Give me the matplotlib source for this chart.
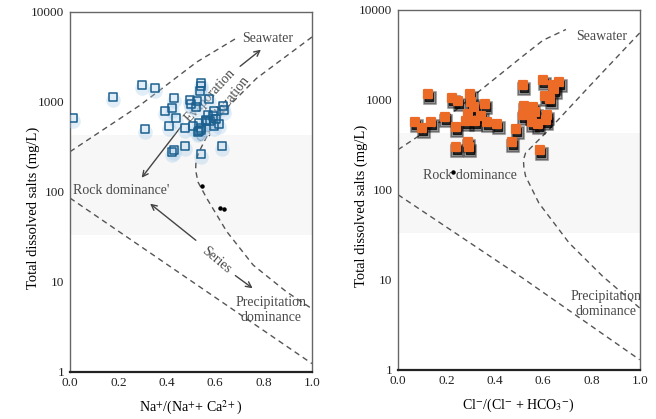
import matplotlib

matplotlib.use('Agg')

from matplotlib import pyplot as plt
from matplotlib.markers import MarkerStyle
from matplotlib.transforms import offset_copy

plt.rcParams['font.family'] = ['Liberation Serif', 'DejaVu Serif']
plt.rcParams['mathtext.fontset'] = 'stix'

# Left panel: Na+/(Na+ + Ca2+) vs TDS (hollow blue squares)
na_ratio = [0.013, 0.176, 0.298, 0.352, 0.310, 0.431, 0.421, 0.394, 0.439, 0.408,
            0.476, 0.421, 0.428, 0.476, 0.541, 0.541, 0.537, 0.496, 0.500, 0.523,
            0.520, 0.574, 0.631, 0.638, 0.593, 0.569, 0.591, 0.604, 0.560, 0.564,
            0.577, 0.533, 0.509, 0.614, 0.593, 0.543, 0.535, 0.530, 0.541, 0.627,
            0.541]
na_tds = [661, 1137, 1549, 1419, 498, 1107, 855, 784, 661, 542,
          511, 277, 287, 324, 1630, 1494, 1313, 1041, 948, 1025,
          878, 1060, 892, 804, 783, 719, 701, 644, 632, 605,
          616, 581, 542, 570, 542, 511, 476, 456, 489, 324,
          263]
na_dots_x = [0.546, 0.618, 0.638]
na_dots_y = [115, 66, 65]

# Right panel: Cl-/(Cl- + HCO3-) vs TDS (filled orange squares)
cl_ratio = [0.126, 0.071, 0.101, 0.138, 0.193, 0.224, 0.249, 0.239, 0.240, 0.300,
            0.303, 0.314, 0.291, 0.283, 0.317, 0.345, 0.360, 0.367, 0.411, 0.289,
            0.292, 0.489, 0.470, 0.516, 0.520, 0.516, 0.557, 0.568, 0.550, 0.553,
            0.578, 0.616, 0.611, 0.601, 0.643, 0.668, 0.647, 0.610, 0.629, 0.589]
cl_tds = [1160, 564, 480, 564, 636, 1050, 967, 500, 295, 1148,
          950, 835, 687, 579, 579, 657, 887, 564, 531, 343,
          295, 471, 340, 1456, 856, 674, 835, 735, 674, 568,
          531, 674, 593, 1656, 1456, 1560, 1304, 1107, 1017, 275]
cl_dots_x = [0.228]
cl_dots_y = [157]

# Gibbs boundary curves
left_upper_x = [0.0, 0.289, 0.524, 0.689]
left_upper_y = [278, 912, 2761, 5105]
left_inner_x = [1.0, 0.771, 0.599, 0.537, 0.521, 0.519, 0.529, 0.565, 0.648, 0.757, 0.895, 1.0]
left_inner_y = [5236, 1820, 627, 290, 225, 174, 128, 84.5, 36, 15.3, 7.7, 5.0]
left_lower_x = [0.0, 1.0]
left_lower_y = [85, 1.23]

right_upper_x = [0.0, 0.2, 0.51, 0.6, 0.695]
right_upper_y = [278, 631, 2951, 4571, 6026]
right_inner_x = [1.0, 0.792, 0.625, 0.528, 0.519, 0.521, 0.528, 0.583, 0.708, 0.847, 1.0]
right_inner_y = [5508, 1409, 465, 256, 215, 174, 141, 71, 25.6, 10.9, 4.85]
right_lower_x = [0.0, 0.514, 1.0]
right_lower_y = [88, 10.5, 1.29]

xticks = [0.0, 0.2, 0.4, 0.6, 0.8, 1.0]
yticks = [1, 10, 100, 1000, 10000]
ytick_labels = ['1', '10', '100', '1000', '10000']

GRAY = '#555555'
rsq = MarkerStyle('s', joinstyle='round')

fig = plt.figure(figsize=(6.56, 4.19), dpi=100)
ax1 = fig.add_axes([0.1067, 0.1129, 0.3689, 0.8592])
ax2 = fig.add_axes([0.6067, 0.1177, 0.3684, 0.8592])


def style_axes(ax, xlabel):
  ax.set_yscale('log')
  ax.set_xlim(0, 1)
  ax.set_ylim(1, 10000)
  ax.set_xticks(xticks)
  ax.set_xticklabels(['%.1f' % t for t in xticks])
  ax.set_yticks(yticks)
  ax.set_yticklabels(ytick_labels)
  ax.minorticks_off()
  ax.tick_params(length=0, labelsize=9.5, pad=4, colors='#222222')
  for s in ['top', 'right', 'left']:
    ax.spines[s].set_color('#666666')
    ax.spines[s].set_linewidth(1.0)
  ax.spines['bottom'].set_color('#222222')
  ax.spines['bottom'].set_linewidth(1.6)
  ax.set_xlabel(xlabel, fontsize=10, labelpad=7)
  ax.set_ylabel('Total dissolved salts (mg/L)', fontsize=10.5)
  ax.yaxis.set_label_coords(-0.125, 0.455)
  # faint grey band from the scan
  ax.axhspan(33, 430, color='#f7f7f7', zorder=0, lw=0)


def curve(ax, x, y):
  ax.plot(x, y, color=GRAY, lw=1.0, ls=(0, (4, 3)), zorder=2)


style_axes(ax1, 'Na$^{+}$/(Na$^{+}$+ Ca$^{2+}$)')
style_axes(ax2, 'Cl$^{-}$/(Cl$^{-}$ + HCO$_3$$^{-}$)')

curve(ax1, left_upper_x, left_upper_y)
curve(ax1, left_inner_x, left_inner_y)
curve(ax1, left_lower_x, left_lower_y)
curve(ax2, right_upper_x, right_upper_y)
curve(ax2, right_inner_x, right_inner_y)
curve(ax2, right_lower_x, right_lower_y)

# left annotations
txt = dict(color='#4a4a4a', fontsize=10)
ax1.text(0.71, 5060, 'Seawater', ha='left', va='center', **txt)
ax1.text(0.012, 104, "Rock dominance'", ha='left', va='center', **txt)
ax1.text(0.83, 4.85, 'Precipitation\ndominance', ha='center', va='center',
         linespacing=1.25, **txt)
ax1.text(0.606, 17.4, 'Series', ha='center', va='center', rotation=-40, **txt)
ax1.text(0.579, 1157, 'Evaporation', ha='center', va='center', rotation=47,
         rotation_mode='anchor', zorder=1, **txt)
ax1.text(0.731, 1834, 'crystallization', ha='right', va='center', rotation=52,
         rotation_mode='anchor', zorder=1, **txt)

arw = dict(arrowstyle='->', color='#444444', lw=1.0, mutation_scale=10)
ax1.annotate('', xy=(0.798, 3954), xytext=(0.694, 2366), arrowprops=arw)
ax1.annotate('', xy=(0.289, 135), xytext=(0.467, 565), arrowprops=arw)
ax1.annotate('', xy=(0.322, 76.9), xytext=(0.529, 27.6), arrowprops=arw)
ax1.annotate('', xy=(0.764, 8.1), xytext=(0.674, 12.2), arrowprops=arw)

# right annotations
ax2.text(0.736, 5060, 'Seawater', ha='left', va='center', **txt)
ax2.text(0.104, 143, 'Rock dominance', ha='left', va='center', **txt)
ax2.text(0.8625, 5.4, 'Precipitation\ndominance', ha='center', va='center',
         linespacing=1.25, **txt)

# blue hollow markers with a soft glow underneath
glow = offset_copy(ax1.transData, fig=fig, x=0, y=-3, units='dots')
ax1.plot(na_ratio, na_tds, ls='none', marker='o', ms=10.5, mfc='#a9cce9', mec='none',
         alpha=0.35, transform=glow, zorder=3)
ax1.plot(na_ratio, na_tds, ls='none', marker=rsq, ms=6.2, mfc='none', mec='#1b5f8e',
         mew=1.1, zorder=4)
ax1.plot(na_dots_x, na_dots_y, ls='none', marker='o', ms=2.2, color='black', zorder=4)

# orange filled markers with a dark drop shadow
shadow1 = offset_copy(ax2.transData, fig=fig, x=1.5, y=-4, units='dots')
shadow2 = offset_copy(ax2.transData, fig=fig, x=1, y=-3, units='dots')
ax2.plot(cl_ratio, cl_tds, ls='none', marker=rsq, ms=8.0, mfc='black', mec='black',
         mew=1.5, alpha=0.35, transform=shadow1, zorder=3)
ax2.plot(cl_ratio, cl_tds, ls='none', marker=rsq, ms=6.3, mfc='black', mec='black',
         mew=1.0, alpha=0.75, transform=shadow2, zorder=3)
ax2.plot(cl_ratio, cl_tds, ls='none', marker=rsq, ms=5.8, mfc='#ec6b27', mec='#ec6b27',
         mew=1.6, zorder=4)
ax2.plot(cl_dots_x, cl_dots_y, ls='none', marker='o', ms=2.2, color='black', zorder=4)

fig.savefig('out.png', dpi=100)
